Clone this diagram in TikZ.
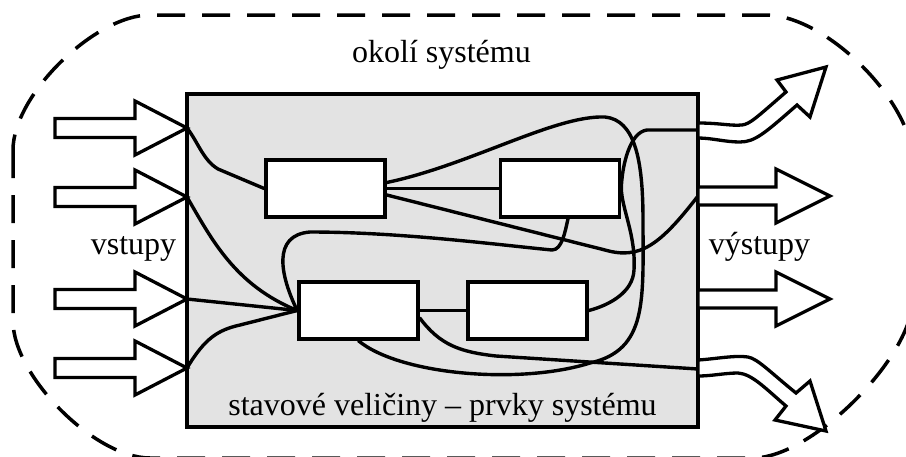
\documentclass[tikz,border=0pt]{standalone}
\usepackage{fontspec}
\setmainfont{Liberation Serif}
\definecolor{panelgray}{RGB}{227,227,227}
\begin{document}
\begin{tikzpicture}[x=1pt,y=-1pt,
  wire/.style={line width=3.4pt, line cap=round, line join=round},
  boxedge/.style={draw, line width=3.6pt},
  elem/.style={boxedge, fill=white, minimum width=119pt, minimum height=57pt, inner sep=0pt},
  arrowline/.style={draw, fill=white, line width=3.3pt, line join=miter},
  txt/.style={font=\fontsize{32}{38}\selectfont, inner sep=0pt, anchor=base},
  inarrow/.pic={\path[arrowline] (-132,-9.5) -- (-52,-9.5) -- (-52,-27) -- (0,0)
      -- (-52,27) -- (-52,9.5) -- (-132,9.5) -- cycle;},
  outarrow/.pic={\path[arrowline] (0,-9) -- (78,-9) -- (78,-27) -- (132,0)
      -- (78,27) -- (78,9) -- (0,9) -- cycle;}
]
\useasboundingbox (0,0) rectangle (906,456);

% surroundings of the system (dashed boundary)
\draw[line width=3.5pt, dash pattern=on 28pt off 17pt]
  (13,150) -- (13,321) .. controls (13,376) and (95,458) .. (150,458)
  -- (753,458) .. controls (812,458) and (913,357) .. (913,298)
  -- (913,162) .. controls (913,102) and (826,15) .. (766,15)
  -- (150,15) .. controls (95,15) and (13,95) .. (13,150) -- cycle;

% the system
\node[boxedge, fill=panelgray, minimum width=511pt, minimum height=333pt, inner sep=0pt]
  (sys) at (442.5,260.5) {};

% input and output points on the system border
\coordinate (in1) at (187,128);
\coordinate (in2) at (187,197);
\coordinate (in3) at (187,299);
\coordinate (in4) at (187,368);
\coordinate (out1) at (698,130);
\coordinate (out2) at (698,196);
\coordinate (out3) at (698,299);
\coordinate (out4) at (698,369);

% elements (state variables)
\path (325.5,188.5) node[elem] (b1) {}
      (560,188.5)   node[elem] (b2) {}
      (358.5,310.5) node[elem] (b3) {}
      (527.5,310.5) node[elem] (b4) {};

% couplings
\draw[wire] (in1) .. controls (198,142) and (203,160) .. (218,169) -- (b1.west);
\draw[wire] (in2) .. controls (212,240) and (235,285) .. (b3.west);
\draw[wire] (in3) -- (b3.west);
\draw[wire] (in4) .. controls (205,338) and (218,330) .. (240,325) -- (b3.west);
\draw[wire] (b3.west) .. controls (280,275) and (272,235) .. (310,232)
  .. controls (400,232) and (500,245) .. (552,250)
  .. controls (562,250) and (565,232) .. ([xshift=8pt]b2.south);
\draw[wire] (b1.east) -- (b2.west);
\draw[wire] ([yshift=6pt]b1.east) .. controls (470,165) and (555,115) .. (605,117)
  .. controls (635,120) and (643,160) .. (643,220)
  .. controls (643,300) and (648,350) .. (590,363)
  .. controls (520,385) and (400,375) .. (b3.south);
\draw[wire] ([yshift=-6.5pt]b1.east) -- (605,250)
  .. controls (640,260) and (660,245) .. (out2);
\draw[wire] (out1) -- (647,130) .. controls (630,132) and (622,165) .. (b2.east)
  .. controls (622,210) and (636,235) .. (634,270)
  .. controls (633,292) and (610,305) .. (b4.east);
\draw[wire] (b3.east) -- (b4.west);
\draw[wire] ([yshift=-7.5pt]b3.east) .. controls (440,345) and (460,352) .. (496,356) -- (out4);

% redraw the elements on top of the couplings
\path (325.5,188.5) node[elem] {}
      (560,188.5)   node[elem] {}
      (358.5,310.5) node[elem] {}
      (527.5,310.5) node[elem] {};

% inputs
\pic at (in1) {inarrow};
\pic at (in2) {inarrow};
\pic at (in3) {inarrow};
\pic at (in4) {inarrow};

% outputs
\path[arrowline] (698,123) .. controls (720,123) and (730,126) .. (742,125)
  .. controls (750,124) and (756,118) .. (786,92) -- (777,80) -- (826,67)
  -- (810,117) -- (797,105) .. controls (765,133) and (755,142) .. (740,142)
  .. controls (725,142) and (712,138) .. (698,138) -- cycle;
\pic at (out2) {outarrow};
\pic at (out3) {outarrow};
\path[arrowline] (698,360) .. controls (715,359) and (735,355) .. (748,357)
  .. controls (758,359) and (770,372) .. (796,393) -- (810,381) -- (826,431)
  -- (775,420) -- (786,406) .. controls (765,388) and (752,374) .. (738,373)
  .. controls (725,373) and (712,376) .. (698,376) -- cycle;

% labels
\node[txt] (env) at (441.5,62) {okolí systému};
\node[txt] (inlbl) at (133.5,254) {vstupy};
\node[txt] (outlbl) at (759.5,254) {výstupy};
\node[txt] (statelbl) at (442.5,415) {stavové veličiny – prvky systému};
\end{tikzpicture}
\end{document}
